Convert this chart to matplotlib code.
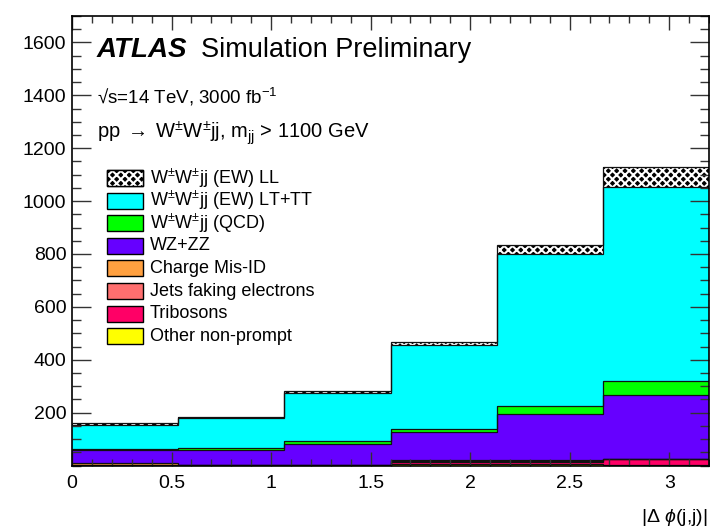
import matplotlib
matplotlib.use("Agg")
import matplotlib.pyplot as plt
from matplotlib.patches import Rectangle
from matplotlib.ticker import MultipleLocator
import numpy as np

plt.rcParams["font.family"] = ["Liberation Sans", "DejaVu Sans"]
plt.rcParams["mathtext.fontset"] = "custom"
plt.rcParams["mathtext.rm"] = "Liberation Sans"
plt.rcParams["mathtext.it"] = "Liberation Sans:italic"
plt.rcParams["mathtext.bf"] = "Liberation Sans:bold"
plt.rcParams["hatch.color"] = "white"
plt.rcParams["hatch.linewidth"] = 1.5

# |delta phi(j,j)| binning, 6 bins
edges = np.linspace(0.0, 3.2, 7)

# event yields per bin, listed from the bottom of the stack upwards
other_nonprompt = [0, 0, 0, 5, 5, 1]
tribosons = [1, 1, 1, 7, 7, 22]
jets_faking = [0, 0, 0, 5, 5, 1]
charge_misid = [9, 2, 2, 3, 3, 1]
wz_zz = [50, 56, 78, 106, 175, 242]
ww_qcd = [1, 8, 12, 12, 29, 53]
ww_ew_lttt = [93, 111, 183, 318, 576, 733]
ww_ew_ll = [5, 5, 6, 11, 33, 77]

stack = [
    ("Other non-prompt", other_nonprompt, "#ffff00"),
    ("Tribosons", tribosons, "#ff0066"),
    ("Jets faking electrons", jets_faking, "#ff6f6f"),
    ("Charge Mis-ID", charge_misid, "#ffa040"),
    ("WZ+ZZ", wz_zz, "#6600ff"),
    ("W$^{\\pm}$W$^{\\pm}$jj (QCD)", ww_qcd, "#00ff00"),
    ("W$^{\\pm}$W$^{\\pm}$jj (EW) LT+TT", ww_ew_lttt, "#00ffff"),
    ("W$^{\\pm}$W$^{\\pm}$jj (EW) LL", ww_ew_ll, "black"),
]

W, H = 710, 529
fig = plt.figure(figsize=(W / 100, H / 100), dpi=100)
ax = fig.add_axes([72 / W, 1 - 465.5 / H, 637 / W, 449.5 / H])


def fpos(x, y):
    return x / W, 1 - y / H


bottom = np.zeros(len(edges) - 1)
for label, values, color in stack:
    top = bottom + np.asarray(values, dtype=float)
    ax.stairs(top, edges, baseline=bottom, fill=True, color=color, lw=0, zorder=1)
    if label.endswith("LL"):
        ax.stairs(top, edges, baseline=bottom, fill=True, facecolor="none",
                  edgecolor="white", hatch="xxxx", lw=0, zorder=1.1)
    ax.stairs(top, edges, baseline=None, color="#111111", lw=0.9, zorder=1.2)
    bottom = top

ax.set_xlim(edges[0], edges[-1])
ax.set_ylim(0, 1700)
ax.set_xticks([0, 0.5, 1, 1.5, 2, 2.5, 3])
ax.set_xticklabels(["0", "0.5", "1", "1.5", "2", "2.5", "3"])
ax.set_yticks(range(200, 1601, 200))
ax.xaxis.set_minor_locator(MultipleLocator(0.1))
ax.yaxis.set_minor_locator(MultipleLocator(50))
ax.tick_params(axis="both", which="both", direction="in", top=True, right=True,
               labelsize=14, width=1.0, color="#333333")
ax.tick_params(axis="x", which="major", length=10, pad=7)
ax.tick_params(axis="x", which="minor", length=5)
ax.tick_params(axis="y", which="major", length=13.5, pad=4)
ax.tick_params(axis="y", which="minor", length=6.5)
for sp in ax.spines.values():
    sp.set_linewidth(1.2)

fig.text(*fpos(708, 517), "|$\\Delta$ $\\phi$(j,j)|", fontsize=14,
         ha="right", va="center")

# labels
fig.text(*fpos(97, 50), "ATLAS", fontsize=20, fontweight="bold",
         fontstyle="italic", va="center")
fig.text(*fpos(201, 50), "Simulation Preliminary", fontsize=19.5, va="center")
fig.text(*fpos(97, 97), "\u221as=14 TeV, 3000 fb$^{\\mathrm{-1}}$",
         fontsize=13.5, va="center")
fig.text(*fpos(97, 133),
         "pp$\\;\\rightarrow\\;$W$^{\\pm}$W$^{\\pm}$jj, m$_{\\mathrm{jj}}$ > 1100 GeV",
         fontsize=14.5, va="center")

# legend, top entry first
row_y = 178
for label, values, color in stack[::-1]:
    x0, y0 = fpos(107, row_y + 8)
    box = Rectangle((x0, y0), 36 / W, 16 / H, transform=fig.transFigure,
                    facecolor=color, edgecolor="black", lw=1.0)
    fig.patches.append(box)
    if label.endswith("LL"):
        fig.patches.append(Rectangle((x0, y0), 36 / W, 16 / H, transform=fig.transFigure,
                                     facecolor="none", edgecolor="white",
                                     hatch="xxxx", lw=0))
        fig.patches.append(Rectangle((x0, y0), 36 / W, 16 / H, transform=fig.transFigure,
                                     facecolor="none", edgecolor="black", lw=1.0))
    fig.text(*fpos(150, row_y), label, fontsize=13, va="center")
    row_y += 22.6

fig.savefig("out.png", dpi=100)
